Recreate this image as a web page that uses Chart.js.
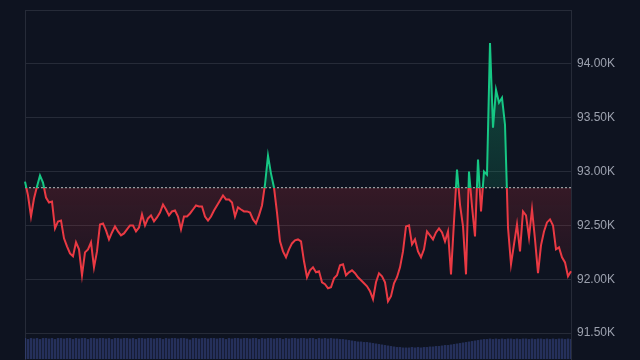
<!DOCTYPE html>
<html>
<head>
<meta charset="utf-8">
<script src="https://cdn.jsdelivr.net/npm/chart.js@4"></script>
<style>
  html, body { margin: 0; padding: 0; background: #0e1320; }
  #wrap { width: 640px; height: 360px; position: relative; }
</style>
</head>
<body>
<div id="wrap"><canvas id="c"></canvas></div>
<script>
// ---- data ----
const BASELINE = 92850;
const yTicks = [91500, 92000, 92500, 93000, 93500, 94000, 94500];
const price = [
  92907, 92778, 92583, 92750, 92861, 92963, 92898, 92759, 92713, 92722,
  92472, 92537, 92546, 92380, 92306, 92241, 92213, 92343, 92278, 92037,
  92250, 92278, 92343, 92111, 92259, 92509, 92519, 92454, 92370, 92435,
  92491, 92444, 92407, 92426, 92463, 92500, 92500, 92444, 92481, 92602,
  92500, 92565, 92593, 92537, 92574, 92620, 92694, 92648, 92593, 92630,
  92639, 92583, 92463, 92583, 92583, 92611, 92648, 92685, 92676, 92676,
  92583, 92546, 92583, 92639, 92685, 92731, 92778, 92741, 92741, 92713,
  92583, 92667, 92648, 92630, 92630, 92620, 92556, 92519, 92593, 92685,
  92880, 93148, 92981, 92852, 92620, 92352, 92259, 92204, 92278, 92333,
  92361, 92370, 92352, 92167, 92019, 92083, 92111, 92065, 92074, 91972,
  91954, 91917, 91926, 92009, 92037, 92130, 92139, 92037, 92065, 92083,
  92056, 92019, 91991, 91963, 91935, 91889, 91815, 91972, 92056, 92028,
  91972, 91796, 91843, 91963, 92019, 92111, 92259, 92491, 92500, 92324,
  92370, 92259, 92204, 92278, 92444, 92407, 92370, 92435, 92472, 92435,
  92352, 92444, 92046, 92537, 93019, 92694, 92491, 92046, 93000, 92676,
  92398, 93111, 92630, 93000, 92972, 94194, 93407, 93759, 93639, 93685,
  93435, 92481, 92139, 92324, 92509, 92259, 92630, 92593, 92389, 92648,
  92370, 92056, 92315, 92444, 92528, 92556, 92500, 92278, 92296, 92204,
  92157, 92028, 92074
];
const volume = [
  2.1, 2.0, 2.1, 2.05, 2.1, 2.0, 2.1, 2.1, 2.05, 2.1,
  2.0, 2.1, 2.1, 2.05, 2.1, 2.1, 2.0, 2.1, 2.05, 2.1,
  2.1, 2.0, 2.1, 2.1, 2.05, 2.1, 2.1, 2.05, 2.1, 2.0,
  2.1, 2.1, 2.05, 2.1, 2.1, 2.05, 2.1, 2.0, 2.1, 2.1,
  2.05, 2.1, 2.1, 2.05, 2.1, 2.1, 2.0, 2.1, 2.05, 2.1,
  2.1, 2.05, 2.1, 2.1, 2.05, 1.95, 2.1, 2.1, 2.05, 2.1,
  2.1, 2.05, 2.1, 2.1, 2.05, 2.1, 2.1, 2.0, 2.1, 2.05,
  2.1, 2.1, 2.05, 2.1, 2.1, 2.05, 2.1, 2.1, 2.0, 2.1,
  2.05, 2.1, 2.1, 2.05, 2.1, 2.1, 2.0, 2.1, 2.05, 2.1,
  2.1, 2.05, 2.1, 2.1, 2.05, 2.1, 2.1, 2.0, 2.1, 2.05,
  2.1, 2.05, 2.1, 2.05, 2.05, 2.0, 2.0, 1.95, 1.9, 1.85,
  1.8, 1.75, 1.75, 1.7, 1.7, 1.65, 1.6, 1.55, 1.5, 1.45,
  1.4, 1.35, 1.3, 1.25, 1.2, 1.2, 1.15, 1.15, 1.15, 1.2,
  1.15, 1.2, 1.15, 1.2, 1.2, 1.25, 1.25, 1.3, 1.3, 1.35,
  1.4, 1.4, 1.45, 1.5, 1.55, 1.6, 1.65, 1.7, 1.75, 1.8,
  1.85, 1.9, 1.95, 2.0, 2.0, 2.05, 2.0, 2.05, 2.0, 2.05,
  2.0, 2.05, 2.05, 2.0, 2.05, 2.0, 2.05, 2.05, 2.0, 2.05,
  2.0, 2.05, 2.05, 2.0, 2.05, 2.0, 2.05, 2.0, 2.05, 2.05,
  2.0, 2.05, 2.0
];
const categories = price.map((_, i) => String(i));
const baselineSeries = categories.map(() => BASELINE);

// ---- style ----
const GREEN = '#16c784';
const RED = '#ea3943';
const GRID = '#262b38';
const TICK_COLOR = '#9ca1ae';

const priceDs = {
  type: 'line',
  label: 'Price',
  data: price,
  yAxisID: 'y',
  borderColor: RED,
  borderWidth: 2,
  pointRadius: 0,
  tension: 0,
  order: 0,
  fill: { target: { value: BASELINE }, above: 'rgba(22,199,132,0.22)', below: 'rgba(234,57,67,0.12)' }
};

const chart = new Chart(document.getElementById('c'), {
  data: {
    labels: categories,
    datasets: [
      priceDs,
      {
        type: 'line',
        label: 'Open',
        data: baselineSeries,
        yAxisID: 'y',
        borderColor: 'rgba(255,255,255,0.75)',
        borderWidth: 1,
        borderDash: [2, 2],
        pointRadius: 0,
        fill: false,
        order: 1
      },
      {
        type: 'bar',
        label: 'Volume',
        data: volume,
        yAxisID: 'yv',
        backgroundColor: 'rgba(56,72,140,0.55)',
        borderWidth: 0,
        barPercentage: 1,
        categoryPercentage: 0.8,
        order: 2
      }
    ]
  },
  options: {
    responsive: true,
    maintainAspectRatio: false,
    animation: false,
    layout: { padding: { top: 10, left: 25, right: 0, bottom: 0 } },
    plugins: { legend: { display: false }, tooltip: { enabled: false } },
    scales: {
      x: { type: 'category', display: false, offset: false },
      y: {
        position: 'right',
        min: 91260,
        max: 94500,
        afterBuildTicks: (s) => { s.ticks = yTicks.map(v => ({ value: v })); },
        afterFit: (s) => { s.width = 69; s.paddingTop = 0; s.paddingBottom = 0; },
        grid: { color: GRID, lineWidth: 1, drawTicks: false },
        border: { display: true, color: GRID },
        ticks: {
          padding: 6,
          color: TICK_COLOR,
          font: { family: '"Liberation Sans", Arial, sans-serif', size: 12 },
          callback: (v) => v >= 94500 ? '' : (v / 1000).toFixed(2) + 'K'
        }
      },
      yv: {
        position: 'left',
        min: 0,
        max: 35,
        afterFit: (s) => { s.width = 0; s.paddingTop = 0; s.paddingBottom = 0; },
        grid: { display: false, drawTicks: false },
        border: { display: true, color: GRID },
        ticks: { display: false }
      }
    }
  }
});

(function applyGradients() {
  const ctx = chart.ctx;
  const area = chart.chartArea;
  const y = chart.scales.y;
  const by = y.getPixelForValue(BASELINE);
  const p = Math.min(1, Math.max(0, (by - area.top) / (area.bottom - area.top)));
  const lg = ctx.createLinearGradient(0, area.top, 0, area.bottom);
  lg.addColorStop(0, GREEN); lg.addColorStop(p, GREEN);
  lg.addColorStop(p, RED); lg.addColorStop(1, RED);
  const fr = ctx.createLinearGradient(0, by, 0, y.getPixelForValue(91800));
  fr.addColorStop(0, 'rgba(234,57,67,0.18)');
  fr.addColorStop(1, 'rgba(234,57,67,0.03)');
  const fgc = ctx.createLinearGradient(0, y.getPixelForValue(94200), 0, by);
  fgc.addColorStop(0, 'rgba(22,199,132,0.30)');
  fgc.addColorStop(1, 'rgba(22,199,132,0.15)');
  priceDs.borderColor = lg;
  priceDs.fill.above = fgc;
  priceDs.fill.below = fr;
  chart.update('none');
})();
</script>
</body>
</html>
